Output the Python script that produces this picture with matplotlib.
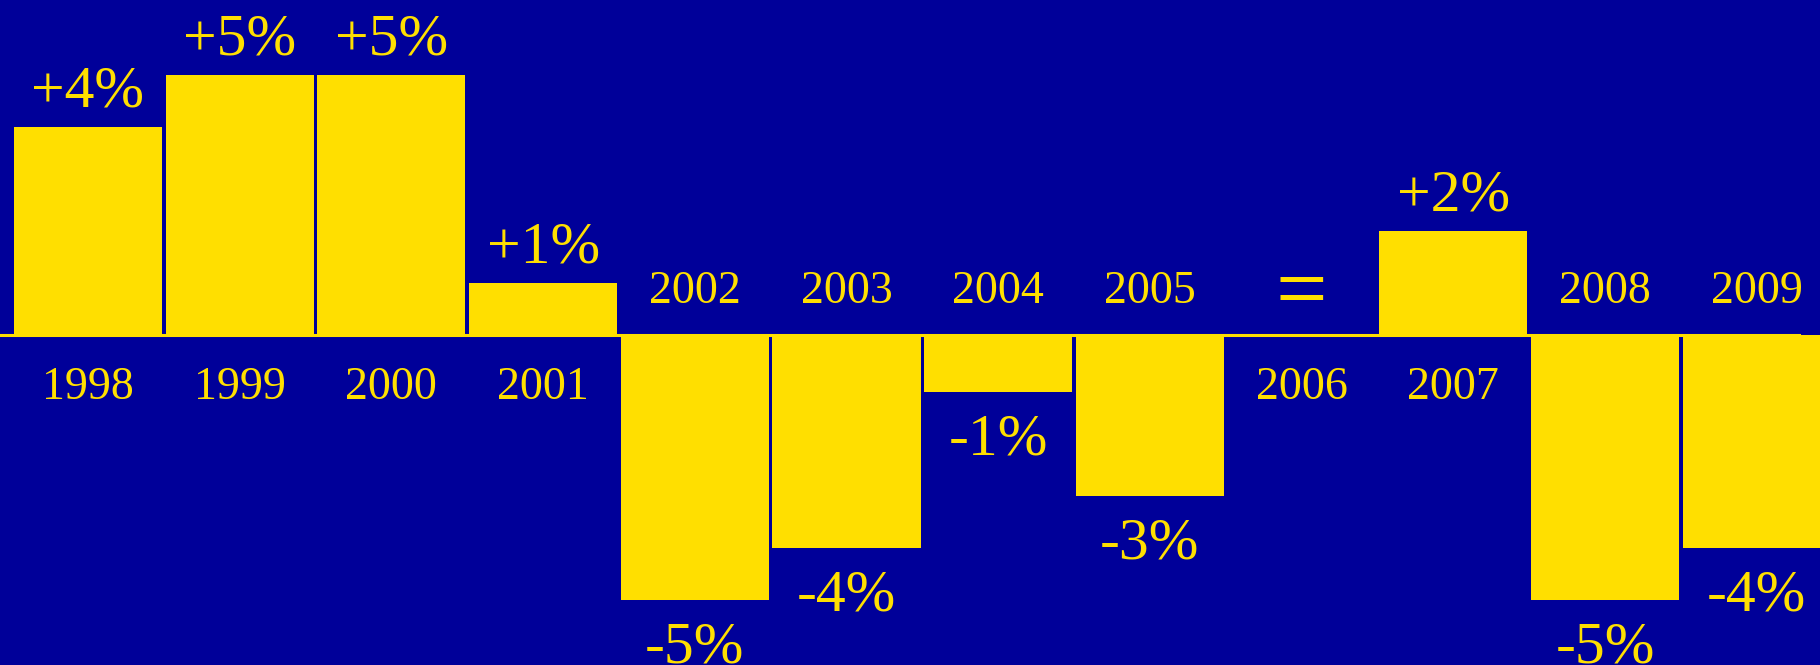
import matplotlib.pyplot as plt
import numpy as np

# données
years = ['1998', '1999', '2000', '2001', '2002', '2003',
         '2004', '2005', '2006', '2007', '2008', '2009']
growth = [4.0, 5.0, 5.0, 1.0, -5.1, -4.1, -1.1, -3.1, 0.0, 2.0, -5.1, -4.1]
pct_labels = ['+4%', '+5%', '+5%', '+1%', '-5%', '-4%',
              '-1%', '-3%', '=', '+2%', '-5%', '-4%']

bg = '#000099'
yellow = '#FFDF00'
serif = ['Liberation Serif', 'DejaVu Serif']

fig = plt.figure(figsize=(18.2, 6.65), dpi=100, facecolor=bg)
ax = fig.add_axes([0, 0, 1, 1])
ax.set_facecolor(bg)

x = np.arange(len(years))
ax.axhline(0, xmin=0, xmax=1799 / 1820, color=yellow, lw=2.2, zorder=1)
ax.bar(x, growth, width=0.976, color=yellow, edgecolor='none', zorder=2)

for i, (v, lab, yr) in enumerate(zip(growth, pct_labels, years)):
    if v > 0:
        ax.text(i, v + 0.40, lab, ha='center', va='baseline', fontsize=43,
                color=yellow, family=serif)
        ax.text(i, -1.23, yr, ha='center', va='baseline', fontsize=33,
                color=yellow, family=serif)
    elif v < 0:
        ax.text(i, v - 1.19, lab, ha='center', va='baseline', fontsize=43,
                color=yellow, family=serif)
        ax.text(i, 0.615, yr, ha='center', va='baseline', fontsize=33,
                color=yellow, family=serif)
    else:
        ax.text(i, 0.30, lab, ha='center', va='baseline', fontsize=66,
                color=yellow, family=serif)
        ax.text(i, -1.23, yr, ha='center', va='baseline', fontsize=33,
                color=yellow, family=serif)

ax.set_xlim(-0.58, 11.417)
ax.set_ylim(-6.346, 6.442)
ax.axis('off')

fig.savefig('out.png', dpi=100, facecolor=bg)
